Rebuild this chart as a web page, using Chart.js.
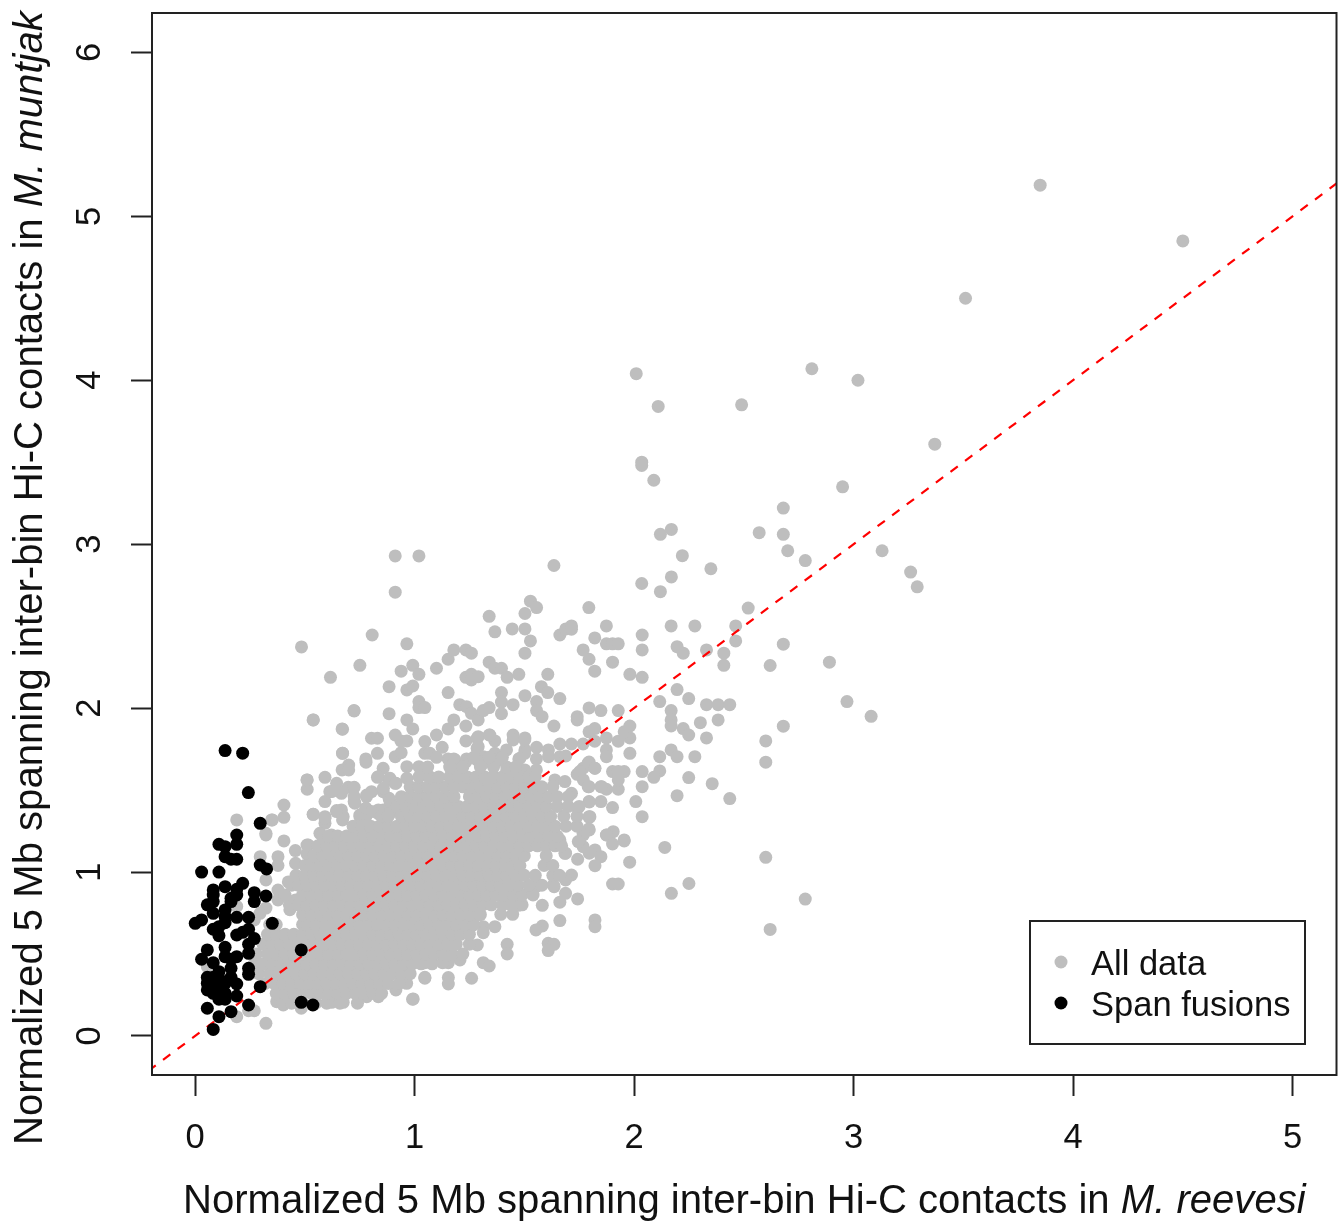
<!DOCTYPE html>
<html>
<head>
<meta charset="utf-8">
<title>Hi-C contacts</title>
<script src="https://cdn.jsdelivr.net/npm/chart.js@4"></script>
<style>
  html, body { margin: 0; padding: 0; background: #fff; }
  canvas { display: block; }
</style>
</head>
<body>
<canvas id="contacts-chart" width="1343" height="1222"></canvas>
<script>
const xTicks = [0, 1, 2, 3, 4, 5];
const yTicks = [0, 1, 2, 3, 4, 5, 6];
const seriesNames = ['All data', 'Span fusions'];
const diagonal = [[-0.345, -0.345], [5.4, 5.4]];

// points that can be read one by one
const grayPoints = [
  [3.85,5.19],[4.50,4.85],[3.51,4.50],[2.81,4.07],[2.01,4.04],[3.02,4.00],[2.11,3.84],[2.49,3.85],[3.37,3.61],
  [2.035,3.50],[2.035,3.48],[2.09,3.39],[2.95,3.35],[2.68,3.22],[2.17,3.09],[2.12,3.06],[2.57,3.07],[2.68,3.06],
  [2.70,2.96],[3.13,2.96],[2.22,2.93],[2.78,2.90],[2.35,2.85],[3.26,2.83],[3.29,2.74],[2.17,2.80],[2.035,2.76],
  [2.12,2.71],[2.52,2.61],[1.635,2.87],[0.912,2.928],[1.02,2.928],[0.912,2.707],
  [1.34,2.56],[1.366,2.465],[1.445,2.483],[1.503,2.483],[1.528,2.652],[1.556,2.613],[1.503,2.577],[1.528,2.41],
  [1.503,2.335],[1.34,2.28],[1.366,2.243],[1.396,2.243],[1.422,2.188],[1.475,2.206],[1.607,2.206],[1.578,2.131],
  [1.607,2.095],[1.503,2.076],[1.396,2.095],[1.396,2.036],[1.449,2.021],[1.396,1.966],[1.556,2.04],[1.556,1.985],
  [1.581,1.948],[1.662,2.058],[1.635,1.891],[1.741,1.948],[1.741,1.928],[1.795,2.001],[1.849,1.985],[1.928,1.985],
  [1.795,1.855],[1.821,1.875],[1.874,1.818],[1.821,1.798],[1.768,1.781],[1.715,1.781],[1.662,1.781],[1.61,1.745],
  [1.556,1.761],[1.503,1.745],[1.503,1.818],[1.449,1.836],[1.61,1.704],[1.662,1.704],[1.689,1.708],[1.874,1.745],
  [1.874,1.704],[1.928,1.798],[1.981,1.818],[1.955,1.855],[1.981,1.891],[1.981,1.724],[1.795,1.671],[1.768,1.633],
  [1.821,1.633],[1.741,1.596],[1.795,1.521],[1.849,1.521],[1.874,1.505],[1.928,1.505],[1.902,1.613],[1.955,1.613],
  [1.928,1.613],[1.928,1.562],[1.715,1.48],[1.795,1.43],[1.849,1.43],[1.902,1.393],[1.795,1.338],[1.794,1.263],
  [1.768,1.236],[1.874,1.226],[1.905,1.246],[1.955,1.196],[1.768,2.355],[1.795,2.298],[1.821,2.428],[1.821,2.225],
  [1.874,2.501],[1.874,2.392],[1.902,2.392],[1.928,2.392],[1.902,2.28],[1.794,2.613],[1.662,2.446],[1.689,2.483],
  [1.715,2.501],[1.715,2.481],[2.037,2.446],[2.037,2.355],[1.981,2.206],[2.037,2.188],[2.169,2.501],[2.277,2.501],
  [2.196,2.375],[2.224,2.335],[2.33,2.355],[2.409,2.335],[2.463,2.501],[2.463,2.41],[2.409,2.261],[2.196,2.113],
  [2.249,2.058],[2.117,2.04],[2.33,2.021],[2.383,2.021],[2.436,2.021],[2.169,1.985],[2.169,1.928],[2.169,1.891],
  [2.224,1.875],[2.249,1.836],[2.302,1.911],[2.383,1.928],[2.33,1.818],[2.169,1.745],[2.196,1.704],[2.117,1.704],
  [2.277,1.704],[2.117,1.617],[2.09,1.578],[2.037,1.613],[2.037,1.521],[2.249,1.576],[2.356,1.539],[2.196,1.466],
  [2.436,1.448],[2.008,1.43],[2.037,1.338],[2.62,2.26],[2.68,2.39],[2.89,2.28],[2.97,2.04],[3.08,1.95],[2.68,1.89],
  [2.60,1.80],[2.60,1.67],[2.60,1.09],[2.78,0.835],[2.62,0.65],[2.17,0.87],[2.25,0.93],[2.14,1.15],[1.98,1.06],
  [1.796,1.428],[1.796,1.334],[1.743,1.389],[1.796,1.257],[1.875,1.226],[1.902,1.171],[1.955,1.19],[1.822,1.135],
  [1.849,1.094],[1.822,1.039],[1.796,1.115],[1.768,1.155],[1.743,1.078],[1.688,1.115],[1.662,1.196],[1.715,0.982],
  [1.688,0.952],[1.636,0.911],[1.688,0.87],[1.743,0.836],[1.662,0.816],[1.582,0.797],[1.662,0.704],[1.822,0.708],
  [1.822,0.667],[1.902,0.927],[1.928,0.927],[1.582,0.671],[1.553,0.647],[1.609,0.565],[1.635,0.559],[1.609,0.521],
  [1.422,0.559],[1.422,0.5],[1.313,0.447],[1.34,0.427],[1.26,0.352],[1.154,0.356],[1.154,0.317],[1.047,0.352],
  [0.991,0.224],[1.366,0.667],[1.313,0.667],[1.313,0.63],[1.26,0.671],[1.286,0.555],[1.207,0.464],[1.154,0.447],
  [1.128,0.447],[1.047,0.447],[1.447,0.742],[1.393,0.742],[1.472,0.797],[1.286,0.738],[1.533,0.87],[1.553,0.911],
  [0.485,2.373],[0.807,2.446],[0.965,2.392],[0.751,2.261],[0.617,2.188],[0.939,2.225],[0.992,2.261],[1.02,2.206],
  [0.884,2.131],[0.965,2.111],[0.992,2.135],[1.1,2.243],[1.153,2.298],[1.179,2.355],[1.234,2.355],[1.259,2.335],
  [1.153,2.095],[1.234,2.188],[1.259,2.206],[1.259,2.172],[1.29,2.192],[1.02,2.04],[1.02,2.003],[1.047,2.003],
  [1.206,2.021],[1.237,2.009],[1.259,1.968],[1.29,1.928],[1.313,1.985],[1.34,2.003],[0.884,1.966],[0.725,1.983],
  [0.538,1.928],[0.67,1.873],[0.965,1.928],[0.992,1.873],[0.912,1.836],[0.938,1.8],[0.965,1.8],[0.804,1.816],
  [0.831,1.816],[0.831,1.724],[0.672,1.724],[0.778,1.69],[0.912,1.704],[0.939,1.728],[0.67,1.623],[0.7,1.653],
  [0.7,1.623],[0.511,1.562],[0.511,1.505],[0.592,1.578],[0.645,1.541],[0.592,1.43],[0.614,1.49],[0.698,1.517],
  [0.725,1.517],[0.667,1.48],[0.405,1.409],[0.405,1.334],[0.349,1.318],[0.323,1.236],[0.538,1.352],[0.592,1.338],
  [0.592,1.297],[0.645,1.375],[0.675,1.338],[0.667,1.379],[0.725,1.43],[0.725,1.46],[0.781,1.46],[0.804,1.49],
  [0.831,1.578],[0.857,1.633],[0.884,1.562],[0.912,1.541],[0.857,1.49],[0.884,1.45],[0.912,1.399],[0.778,1.389],
  [0.751,1.338],[0.778,1.338],[0.834,1.358],[0.857,1.379],[0.965,1.643],[0.965,1.572],[1.02,1.643],[1.047,1.623],
  [1.07,1.572],[1.047,1.796],[1.047,1.724],[1.07,1.724],[1.126,1.761],[1.1,1.836],[1.153,1.873],[1.179,1.928],
  [1.234,1.891],[1.234,1.8],[1.285,1.816],[1.34,1.836],[1.366,1.8],[1.449,1.806],[1.502,1.806],[1.285,1.755],
  [1.366,1.724],[1.419,1.745],[1.502,1.724],[1.555,1.69],[1.475,1.69],[1.153,1.69],[1.179,1.69],[1.237,1.69],
  [1.179,1.633],[1.206,1.578],[1.285,1.684],[1.313,1.664],[1.366,1.684],[1.419,1.613],[1.502,1.623],[1.555,1.623],
  [1.29,1.826],[1.343,1.836],[1.29,1.765],[1.313,1.704],[1.389,1.684],[1.184,1.684],[1.234,1.674],[1.48,1.694],
  [0.19,1.318],[0.323,1.226],[0.352,1.318],[0.405,1.19],[0.297,1.094],[0.378,1.094],[0.378,1.04],[0.323,0.952],
  [0.378,0.89],[0.378,0.83],[0.323,0.78],[0.296,0.748],[0.27,0.708],[0.19,0.79],[0.457,1.131],[0.51,1.165],
  [0.51,1.11],[0.539,1.352],[0.51,1.562],[0.539,1.928],[0.724,1.985],[0.672,1.871],[0.672,1.725],[0.323,0.077],
  [0.19,0.118],[0.27,0.154],[0.244,0.154],[0.994,0.226],[0.484,0.169],[0.056,0.423],[0.622,0.205],[0.675,0.205],
  [0.782,0.24],[0.835,0.24],[0.915,0.281],[0.964,0.321],[1.047,0.358],[0.402,0.189],[0.372,0.209],[0.425,0.94],
  [0.432,0.77],[0.458,0.83],[0.458,1.053],[0.349,0.606],[0.402,0.606],
  [0.779,1.67],[0.622,1.491],[0.728,1.42],[0.592,1.328],[0.645,1.369],[0.672,1.318],[0.751,1.348],[0.779,1.389],
  [0.835,1.582],[0.888,1.572],[0.915,1.542],[0.858,1.511],[0.782,1.47],[0.835,1.379],[0.888,1.43],[0.888,1.358],
  [0.804,1.369],[0.569,1.236],[0.622,1.226],[0.728,1.247],[0.782,1.226],[0.516,1.165],
  [1.791,1.664],[1.822,1.633],[1.753,1.613],[1.769,1.562],[1.791,1.521],[1.852,1.521],[1.799,1.338],[1.769,1.226],
  [1.746,1.186],[1.685,1.114],[1.632,0.921],[1.48,1.582],[1.639,1.562],[1.685,1.552]
];

// the solid mass along the diagonal, read row by row
const grayRowY = [0.20,0.26,0.32,0.38,0.44,0.50,0.56,0.62,0.68,0.74,0.80,0.86,0.92,0.98,1.04,1.10,1.16,1.22,1.28,1.34,1.40,1.46,1.52,1.58,1.64,1.70];
const grayRowX = [
  [.40,.44,.49,.55,.60,.66,.74],
  [.37,.41,.45,.49,.53,.57,.61,.65,.69,.73,.77,.81,.85],
  [.32,.36,.40,.44,.48,.52,.56,.60,.64,.68,.72,.76,.80,.84,.88,.93],
  [.29,.34,.38,.42,.46,.50,.54,.58,.62,.66,.70,.74,.78,.82,.86,.90,.94,.98],
  [.27,.31,.35,.39,.43,.47,.51,.55,.59,.63,.67,.71,.75,.79,.83,.87,.91,.95,.99,1.03,1.08],
  [.28,.33,.37,.41,.45,.49,.53,.57,.61,.65,.69,.73,.77,.81,.85,.89,.93,.97,1.01,1.05,1.09,1.13,1.17,1.22],
  [.31,.35,.39,.43,.47,.51,.55,.59,.63,.67,.71,.75,.79,.83,.87,.91,.95,.99,1.03,1.07,1.11,1.15,1.19,1.25],
  [.33,.37,.41,.45,.49,.53,.57,.61,.65,.69,.73,.77,.81,.85,.89,.93,.97,1.01,1.05,1.09,1.13,1.17,1.21,1.25],
  [.34,.37,.49,.51,.55,.59,.63,.67,.71,.75,.79,.83,.87,.91,.95,.99,1.03,1.07,1.11,1.15,1.19,1.23,1.27],
  [.49,.53,.57,.61,.65,.69,.73,.77,.81,.85,.89,.93,.97,1.01,1.05,1.09,1.13,1.17,1.21,1.25,1.30],
  [.43,.47,.51,.55,.59,.63,.67,.71,.75,.79,.83,.87,.91,.95,.99,1.03,1.07,1.11,1.15,1.19,1.23,1.27,1.31,1.35,1.40,1.44,1.49],
  [.41,.49,.53,.57,.61,.65,.69,.73,.77,.81,.85,.89,.93,.97,1.01,1.05,1.09,1.13,1.17,1.21,1.25,1.29,1.33,1.37,1.41,1.45,1.49,1.54],
  [.44,.47,.51,.55,.59,.63,.67,.71,.75,.79,.83,.87,.91,.95,.99,1.03,1.07,1.11,1.15,1.19,1.23,1.27,1.31,1.35,1.39,1.43,1.47,1.52,1.58],
  [.46,.50,.54,.58,.62,.66,.70,.74,.78,.82,.86,.90,.94,.98,1.02,1.06,1.10,1.14,1.18,1.22,1.26,1.30,1.34,1.38,1.42,1.46,1.50,1.55,1.63,1.66],
  [.50,.53,.57,.61,.65,.69,.73,.77,.81,.85,.89,.93,.97,1.01,1.05,1.09,1.13,1.17,1.21,1.25,1.29,1.33,1.37,1.41,1.45,1.48,1.59,1.63],
  [.54,.58,.62,.66,.70,.74,.78,.82,.86,.90,.94,.98,1.02,1.06,1.10,1.14,1.18,1.22,1.26,1.30,1.34,1.38,1.42,1.46,1.50,1.60],
  [.56,.60,.64,.68,.72,.76,.80,.84,.88,.92,.96,1.00,1.04,1.08,1.12,1.16,1.20,1.24,1.28,1.32,1.36,1.40,1.44,1.48,1.52,1.56,1.60,1.64,1.67],
  [.58,.61,.65,.69,.73,.77,.81,.85,.89,.93,.97,1.01,1.05,1.09,1.13,1.17,1.21,1.25,1.29,1.33,1.37,1.41,1.45,1.49,1.53,1.57,1.61,1.65],
  [.72,.76,.80,.84,.88,.92,.96,1.00,1.04,1.08,1.12,1.16,1.20,1.24,1.28,1.32,1.36,1.40,1.44,1.48,1.52,1.56,1.60,1.64,1.69,1.74],
  [.85,.88,.94,.98,1.02,1.06,1.10,1.14,1.18,1.22,1.26,1.30,1.34,1.38,1.42,1.46,1.50,1.54,1.58,1.62,1.68,1.74],
  [.92,.96,1.00,1.04,1.08,1.12,1.16,1.20,1.24,1.28,1.32,1.36,1.40,1.44,1.48,1.52,1.56,1.60,1.65,1.70,1.75],
  [.94,.98,1.02,1.06,1.10,1.14,1.18,1.25,1.29,1.33,1.37,1.41,1.45,1.49,1.53,1.57,1.61,1.65,1.70],
  [.98,1.02,1.06,1.10,1.14,1.18,1.22,1.26,1.30,1.34,1.38,1.42,1.46,1.50,1.54,1.58,1.63],
  [1.02,1.07,1.11,1.16,1.20,1.24,1.28,1.32,1.36,1.40,1.44,1.48,1.52,1.55],
  [1.06,1.16,1.22,1.30,1.36,1.42,1.46],
  [1.10,1.27,1.34,1.40]
];

const blackPoints = [
  [.137,1.741],[.217,1.725],[.243,1.485],[.297,1.297],[.19,1.226],[.19,1.169],[.109,1.169],[.137,1.155],[.137,1.094],
  [.164,1.078],[.19,1.078],[.03,1.0],[.109,1.0],[.297,1.043],[.326,1.019],[.217,.931],[.19,.895],[.137,.911],
  [.083,.891],[.083,.86],[.19,.86],[.164,.84],[.164,.82],[.27,.874],[.27,.82],[.323,.854],[.083,.82],[.056,.8],
  [.083,.748],[.137,.769],[.137,.728],[.19,.724],[.244,.724],[.137,.691],[.03,.708],[.001,.687],[.352,.687],
  [.083,.651],[.109,.667],[.109,.612],[.19,.616],[.217,.632],[.244,.651],[.27,.594],[.244,.559],[.137,.541],
  [.056,.525],[.03,.468],[.137,.484],[.19,.484],[.244,.504],[.164,.468],[.083,.447],[.164,.413],[.244,.413],
  [.244,.376],[.056,.358],[.109,.392],[.083,.321],[.056,.321],[.137,.321],[.164,.358],[.19,.317],[.056,.281],
  [.109,.301],[.083,.26],[.19,.244],[.109,.224],[.137,.224],[.056,.169],[.244,.189],[.164,.148],[.109,.118],
  [.083,.04],[.297,.301],[.484,.525],[.484,.205],[.537,.189],[.109,.28],[.083,.358],[.109,.351],[.137,.26]
];

const xTitle = [['Normalized 5 Mb spanning inter-bin Hi-C contacts in ', 'normal'], ['M. reevesi', 'italic']];
const yTitle = [['Normalized 5 Mb spanning inter-bin Hi-C contacts in ', 'normal'], ['M. muntjak', 'italic']];

const FONT = '"Liberation Sans", Arial, sans-serif';
const GRAY = '#bebebe';

const toPoint = p => ({ x: p[0], y: p[1] });

const allData = grayPoints.map(toPoint);
grayRowY.forEach((y, i) => {
  grayRowX[i].forEach(x => allData.push({ x: x, y: y }));
});

function drawMixedText(ctx, parts, size) {
  let x = 0;
  parts.forEach(part => {
    ctx.font = part[1] + ' ' + size + 'px ' + FONT;
    ctx.fillText(part[0], x, 0);
    x += ctx.measureText(part[0]).width;
  });
}

// box around the plot, legend box and the two axis titles with their italic names
const decorations = {
  id: 'decorations',
  afterDraw: function(chart) {
    const ctx = chart.ctx;
    const area = chart.chartArea;
    ctx.save();
    ctx.strokeStyle = '#222';
    ctx.lineWidth = 2;
    ctx.strokeRect(area.left, area.top, area.right - area.left, area.bottom - area.top);

    ctx.fillStyle = '#fff';
    ctx.fillRect(1030, 921, 275, 123);
    ctx.strokeRect(1030, 921, 275, 123);
    [GRAY, '#000'].forEach((color, i) => {
      ctx.fillStyle = color;
      ctx.beginPath();
      ctx.arc(1061, 962 + i * 41, 6.5, 0, Math.PI * 2);
      ctx.fill();
    });
    ctx.fillStyle = '#111';
    ctx.textBaseline = 'alphabetic';
    ctx.font = '34.5px ' + FONT;
    ctx.fillText(seriesNames[0], 1091, 975);
    ctx.fillText(seriesNames[1], 1091, 1016);

    ctx.save();
    ctx.translate(183, 1213);
    drawMixedText(ctx, xTitle, 40.1);
    ctx.restore();

    ctx.save();
    ctx.translate(42, 1145);
    ctx.rotate(-Math.PI / 2);
    drawMixedText(ctx, yTitle, 40.1);
    ctx.restore();
    ctx.restore();
  }
};

new Chart(document.getElementById('contacts-chart'), {
  type: 'scatter',
  data: {
    datasets: [
      {
        label: seriesNames[1],
        data: blackPoints.map(toPoint),
        backgroundColor: '#000',
        pointRadius: 6.5,
        pointBorderWidth: 0,
        order: 1
      },
      {
        label: 'y = x',
        data: diagonal.map(toPoint),
        type: 'line',
        borderColor: '#ff0000',
        borderWidth: 2.2,
        borderDash: [9.1, 9.1],
        pointRadius: 0,
        order: 2
      },
      {
        label: seriesNames[0],
        data: allData,
        backgroundColor: GRAY,
        pointRadius: 6.5,
        pointBorderWidth: 0,
        order: 3
      }
    ]
  },
  options: {
    responsive: false,
    animation: false,
    layout: { padding: { top: 13, right: 6, left: 0, bottom: 0 } },
    plugins: { legend: { display: false }, tooltip: { enabled: false } },
    scales: {
      x: {
        type: 'linear',
        min: -0.196,
        max: 5.2,
        afterBuildTicks: scale => { scale.ticks = xTicks.map(v => ({ value: v })); },
        afterFit: scale => { scale.height = 147; scale.paddingLeft = 0; scale.paddingRight = 0; },
        grid: { drawOnChartArea: false, tickLength: 21, tickColor: '#222', tickWidth: 2 },
        border: { display: false },
        ticks: { color: '#111', font: { family: FONT, size: 34.5 }, padding: 22, maxRotation: 0, autoSkip: false }
      },
      y: {
        type: 'linear',
        min: -0.238,
        max: 6.24,
        afterBuildTicks: scale => { scale.ticks = yTicks.map(v => ({ value: v })); },
        afterFit: scale => { scale.width = 152; scale.paddingTop = 0; scale.paddingBottom = 0; },
        grid: { drawOnChartArea: false, tickLength: 21, tickColor: '#222', tickWidth: 2 },
        border: { display: false },
        ticks: { color: '#111', font: { family: FONT, size: 34.5 }, padding: 31, minRotation: 90, maxRotation: 90, crossAlign: 'center', autoSkip: false }
      }
    }
  },
  plugins: [decorations]
});
</script>
</body>
</html>
